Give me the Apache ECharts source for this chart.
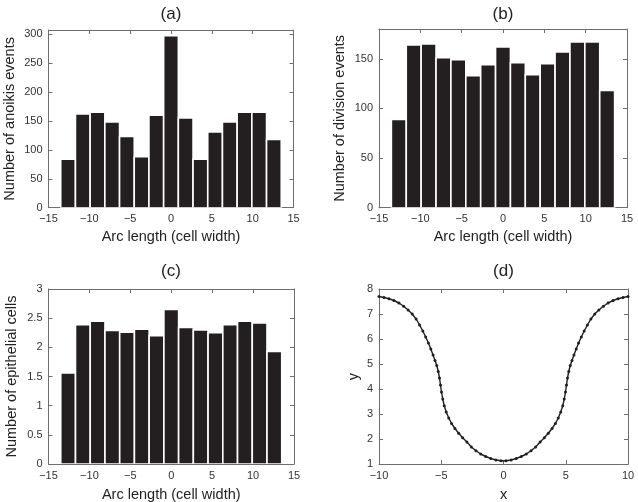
<!DOCTYPE html>
<html>
<head>
<meta charset="utf-8">
<script src="https://cdn.jsdelivr.net/npm/echarts@6/dist/echarts.min.js"></script>
<style>html,body{margin:0;padding:0;background:#fff;}</style>
</head>
<body>
<div id="chart" style="width:638px;height:502px;"></div>
<script>
// histogram bins along the arc (cell widths)
var binCenters = [-12.6, -10.8, -9, -7.2, -5.4, -3.6, -1.8, 0, 1.8, 3.6, 5.4, 7.2, 9, 10.8, 12.6];
var binWidth = 1.8;

var anoikisEvents  = [84, 162, 165, 148, 123, 88, 160, 297, 155, 84, 131, 148, 165, 165, 118];
var divisionEvents = [89, 164, 165, 151, 149, 133, 144, 162, 146, 134, 145, 157, 167, 167, 118];
var epithelialCells = [1.56, 2.39, 2.45, 2.29, 2.26, 2.31, 2.20, 2.65, 2.34, 2.30, 2.25, 2.39, 2.45, 2.42, 1.93];

// crypt profile (d)
var profileX = [-10.00, -9.60, -9.20, -8.80, -8.40, -8.02, -7.66, -7.33, -7.02, -6.74, -6.48, -6.25, -6.03,
  -5.84, -5.66, -5.50, -5.36, -5.24, -5.14, -5.06, -4.98, -4.88, -4.76, -4.60, -4.40, -4.17, -3.90, -3.60,
  -3.28, -2.94, -2.58, -2.21, -1.83, -1.43, -1.02, -0.61, -0.20,
  0.20, 0.61, 1.02, 1.43, 1.83, 2.21, 2.58, 2.94, 3.28, 3.60, 3.90, 4.17, 4.40, 4.60, 4.76, 4.88, 4.98,
  5.06, 5.14, 5.24, 5.36, 5.50, 5.66, 5.84, 6.03, 6.25, 6.48, 6.74, 7.02, 7.33, 7.66, 8.02, 8.40, 8.80,
  9.20, 9.60, 10.00];
var profileY = [7.70, 7.66, 7.61, 7.54, 7.44, 7.31, 7.16, 7.00, 6.80, 6.56, 6.32, 6.08, 5.84,
  5.60, 5.36, 5.14, 4.94, 4.70, 4.44, 4.16, 3.88, 3.60, 3.33, 3.08, 2.84, 2.62, 2.42, 2.23,
  2.05, 1.88, 1.68, 1.53, 1.40, 1.30, 1.22, 1.16, 1.13,
  1.13, 1.16, 1.22, 1.30, 1.40, 1.53, 1.68, 1.88, 2.05, 2.23, 2.42, 2.62, 2.84, 3.08, 3.33, 3.60, 3.88,
  4.16, 4.44, 4.70, 4.94, 5.14, 5.36, 5.60, 5.84, 6.08, 6.32, 6.56, 6.80, 7.00, 7.16, 7.31, 7.44, 7.54,
  7.61, 7.66, 7.70];

var panelTitles = ['(a)', '(b)', '(c)', '(d)'];

var chart = echarts.init(document.getElementById('chart'), null, {renderer: 'canvas'});

var FONT = 'Liberation Sans, Arial, Helvetica, sans-serif';
var boxColor = '#6e6e6e';
var inkColor = '#231f20';

function minusSign(v) {
  return String(v).replace('-', '\u2212');
}

function pairs(xs, ys) {
  return xs.map(function (x, i) { return [x, ys[i]]; });
}

function boxLine() {
  return {show: true, onZero: false, lineStyle: {color: boxColor, width: 1}};
}

function innerTicks() {
  return {show: true, inside: true, length: 4, lineStyle: {color: boxColor}};
}

// main axis with labels + a mirror axis carrying only the inner ticks (matlab box)
function xAxes(grid, min, max, step, name, gap) {
  return [{
    type: 'value', gridIndex: grid, position: 'bottom', min: min, max: max, interval: step,
    name: name, nameLocation: 'middle', nameGap: gap,
    nameTextStyle: {fontFamily: FONT, fontSize: 14.5, color: '#222'},
    axisLine: boxLine(), axisTick: innerTicks(),
    axisLabel: {fontFamily: FONT, fontSize: 11, color: '#333', margin: 6, formatter: minusSign},
    splitLine: {show: false}
  }, {
    type: 'value', gridIndex: grid, position: 'top', min: min, max: max, interval: step,
    axisLine: boxLine(), axisTick: innerTicks(),
    axisLabel: {show: false}, splitLine: {show: false}
  }];
}

function yAxes(grid, min, max, step, name, gap) {
  return [{
    type: 'value', gridIndex: grid, position: 'left', min: min, max: max, interval: step,
    name: name, nameLocation: 'middle', nameGap: gap,
    nameTextStyle: {fontFamily: FONT, fontSize: 14.5, color: '#222'},
    axisLine: boxLine(), axisTick: innerTicks(),
    axisLabel: {fontFamily: FONT, fontSize: 11, color: '#333', margin: 6,
      showMaxLabel: (max % step === 0), formatter: minusSign},
    splitLine: {show: false}
  }, {
    type: 'value', gridIndex: grid, position: 'right', min: min, max: max, interval: step,
    axisLine: boxLine(), axisTick: innerTicks(),
    axisLabel: {show: false}, splitLine: {show: false}
  }];
}

function renderBin(params, api) {
  var c = api.value(0);
  var v = api.value(1);
  var topLeft = api.coord([c - binWidth / 2, v]);
  var bottomRight = api.coord([c + binWidth / 2, 0]);
  return {
    type: 'rect',
    shape: {x: topLeft[0], y: topLeft[1], width: bottomRight[0] - topLeft[0], height: bottomRight[1] - topLeft[1]},
    style: {fill: inkColor, stroke: '#ffffff', lineWidth: 1.6}
  };
}

function histSeries(grid, values) {
  return {
    type: 'custom', xAxisIndex: grid * 2, yAxisIndex: grid * 2,
    renderItem: renderBin, data: pairs(binCenters, values), clip: true
  };
}

var grids = [
  {left: 48.5, top: 30, width: 245, height: 177.7},
  {left: 379, top: 29, width: 248, height: 178.7},
  {left: 48.5, top: 289, width: 245.5, height: 175},
  {left: 379, top: 289, width: 249, height: 175}
];
grids.forEach(function (g) { g.outerBoundsMode = 'none'; g.containLabel = false; });

var titleSpots = [[171, 6], [503, 6], [171, 263], [503.5, 263]];

var option = {
  animation: false,
  backgroundColor: '#ffffff',
  title: panelTitles.map(function (t, i) {
    return {
      text: t, left: titleSpots[i][0], top: titleSpots[i][1], textAlign: 'center', padding: 0,
      textStyle: {fontFamily: FONT, fontSize: 17, fontWeight: 'normal', color: '#222'}
    };
  }),
  grid: grids,
  xAxis: [].concat(
    xAxes(0, -15, 15, 5, 'Arc length (cell width)', 22),
    xAxes(1, -15, 15, 5, 'Arc length (cell width)', 22),
    xAxes(2, -15, 15, 5, 'Arc length (cell width)', 23),
    xAxes(3, -10, 10, 5, 'x', 23)
  ),
  yAxis: [].concat(
    yAxes(0, 0, 307, 50, 'Number of anoikis events', 31),
    yAxes(1, 0, 180, 50, 'Number of division events', 32),
    yAxes(2, 0, 3, 0.5, 'Number of epithelial cells', 29),
    yAxes(3, 1, 8, 1, 'y', 18)
  ),
  series: [
    histSeries(0, anoikisEvents),
    histSeries(1, divisionEvents),
    histSeries(2, epithelialCells),
    {
      type: 'line', xAxisIndex: 6, yAxisIndex: 6,
      data: pairs(profileX, profileY),
      symbol: 'circle', symbolSize: 3, showSymbol: true,
      lineStyle: {color: inkColor, width: 1.4},
      itemStyle: {color: inkColor},
      z: 3
    }
  ]
};

chart.setOption(option);
</script>
</body>
</html>
